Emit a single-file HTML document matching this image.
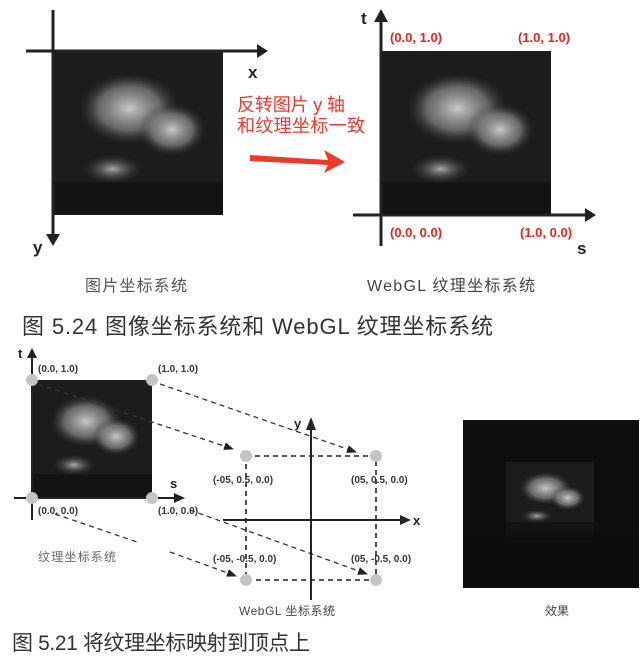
<!DOCTYPE html>
<html><head><meta charset="utf-8"><style>
html,body{margin:0;padding:0;background:#fff;}
svg{display:block;}
text{font-family:"Liberation Sans","Noto Sans CJK SC",sans-serif;}
</style></head><body>
<svg width="640" height="659" viewBox="0 0 640 659" xmlns="http://www.w3.org/2000/svg">
<defs>
<radialGradient id="c1" cx="50%" cy="50%" r="50%"><stop offset="0" stop-color="#c8c8c8"/><stop offset="0.6" stop-color="#888" stop-opacity="0.7"/><stop offset="1" stop-color="#333" stop-opacity="0"/></radialGradient>
<radialGradient id="c2" cx="50%" cy="50%" r="50%"><stop offset="0" stop-color="#aaa"/><stop offset="1" stop-color="#333" stop-opacity="0"/></radialGradient>
<g id="cloud">
<rect x="0" y="0" width="100" height="100" fill="#1c1c1c"/>
<ellipse cx="45" cy="35" rx="30" ry="22" fill="url(#c1)"/>
<ellipse cx="70" cy="48" rx="20" ry="16" fill="url(#c1)"/>
<ellipse cx="35" cy="72" rx="18" ry="9" fill="url(#c2)"/>
<rect x="0" y="80" width="100" height="20" fill="#141414"/>
</g>
<marker id="ahs" markerWidth="10" markerHeight="8" refX="9" refY="4" orient="auto" markerUnits="userSpaceOnUse"><path d="M0,0 L10,4 L0,8 Z" fill="#222"/></marker>
</defs>

<use href="#cloud" transform="translate(53,51) scale(1.7,1.64)"/>
<line x1="26" y1="51" x2="258" y2="51" stroke="#222" stroke-width="3"/>
<path d="M257,44 L268,51 L257,58 Z" fill="#222"/>
<line x1="53" y1="10" x2="53" y2="236" stroke="#222" stroke-width="3"/>
<path d="M46,234 L53,246 L60,234 Z" fill="#222"/>
<text x="248" y="78" font-size="17" font-weight="bold" fill="#222">x</text>
<text x="33" y="253" font-size="17" font-weight="bold" fill="#222">y</text>

<text x="237" y="111" font-size="18" fill="#f0382a" textLength="108" lengthAdjust="spacing">反转图片 y 轴</text>
<text x="237" y="132" font-size="18" fill="#f0382a" textLength="128" lengthAdjust="spacing">和纹理坐标一致</text>
<path d="M250,155 L328,160 L324,150 L345,162 L324,173 L328,165 L250,161 Z" fill="#f0382a"/>

<use href="#cloud" transform="translate(381,51) scale(1.7,1.64)"/>
<line x1="381" y1="18" x2="381" y2="246" stroke="#222" stroke-width="3"/>
<path d="M374,22 L381,9 L388,22 Z" fill="#222"/>
<line x1="353" y1="215" x2="588" y2="215" stroke="#222" stroke-width="3"/>
<path d="M585,208 L596,215 L585,222 Z" fill="#222"/>
<text x="361" y="24" font-size="17" font-weight="bold" fill="#222">t</text>
<text x="577" y="254" font-size="17" font-weight="bold" fill="#222">s</text>
<g font-size="13" font-weight="bold" fill="#e8231c">
<text x="390" y="42">(0.0,   1.0)</text>
<text x="518" y="42">(1.0,   1.0)</text>
<text x="390" y="237">(0.0,   0.0)</text>
<text x="520" y="237">(1.0,   0.0)</text>
</g>
<text x="85" y="291" font-size="16" fill="#555" textLength="102" lengthAdjust="spacing">图片坐标系统</text>
<text x="367" y="291" font-size="16" fill="#444" textLength="168" lengthAdjust="spacing">WebGL 纹理坐标系统</text>
<text x="22" y="334" font-size="22" fill="#333" textLength="471" lengthAdjust="spacing">图 5.24  图像坐标系统和 WebGL 纹理坐标系统</text>

<use href="#cloud" transform="translate(32,380) scale(1.2,1.18)"/>
<line x1="32" y1="356" x2="32" y2="520" stroke="#222" stroke-width="2"/>
<path d="M27,358 L32,348 L37,358 Z" fill="#222"/>
<line x1="14" y1="498" x2="176" y2="498" stroke="#222" stroke-width="2"/>
<path d="M174,493 L185,498 L174,503 Z" fill="#222"/>
<text x="18" y="358" font-size="13" font-weight="bold" fill="#222">t</text>
<text x="170" y="488" font-size="13" font-weight="bold" fill="#222">s</text>
<g fill="#c4c4c4"><circle cx="32" cy="380" r="6"/><circle cx="152" cy="380" r="6"/><circle cx="32" cy="498" r="6"/><circle cx="152" cy="498" r="6"/></g>
<g font-size="10" font-weight="bold" fill="#333">
<text x="38" y="372">(0.0, 1.0)</text>
<text x="158" y="372">(1.0, 1.0)</text>
<text x="38" y="514">(0.0, 0.0)</text>
<text x="158" y="514">(1.0, 0.0)</text>
</g>
<text x="38" y="561" font-size="12" fill="#666" textLength="78" lengthAdjust="spacing">纹理坐标系统</text>

<g stroke="#333" stroke-width="1.3" stroke-dasharray="5,4" fill="none">
<line x1="38" y1="384" x2="233" y2="449" marker-end="url(#ahs)"/>
<line x1="160" y1="384" x2="356" y2="452" marker-end="url(#ahs)"/>
<line x1="55" y1="514" x2="140" y2="543"/>
<line x1="170" y1="552" x2="236" y2="576" marker-end="url(#ahs)"/>
<line x1="190" y1="510" x2="367" y2="574" marker-end="url(#ahs)"/>
</g>

<g stroke="#222" stroke-width="1.6" stroke-dasharray="5,4" fill="none">
<rect x="246" y="456" width="130" height="124"/>
</g>
<line x1="311" y1="426" x2="311" y2="600" stroke="#222" stroke-width="2"/>
<path d="M306,430 L311,417 L316,430 Z" fill="#222"/>
<line x1="223" y1="520" x2="402" y2="520" stroke="#222" stroke-width="2"/>
<path d="M400,515 L411,520 L400,525 Z" fill="#222"/>
<text x="294" y="428" font-size="13" font-weight="bold" fill="#222">y</text>
<text x="413" y="525" font-size="13" font-weight="bold" fill="#222">x</text>
<g fill="#c4c4c4"><circle cx="246" cy="456" r="6"/><circle cx="376" cy="456" r="6"/><circle cx="246" cy="580" r="6"/><circle cx="376" cy="580" r="6"/></g>
<g font-size="10" font-weight="bold" fill="#333">
<text x="213" y="483">(-05, 0.5, 0.0)</text>
<text x="351" y="483">(05, 0.5, 0.0)</text>
<text x="213" y="562">(-05, -0.5, 0.0)</text>
<text x="351" y="562">(05, -0.5, 0.0)</text>
</g>
<text x="239" y="615" font-size="12" fill="#444" textLength="96" lengthAdjust="spacing">WebGL 坐标系统</text>

<rect x="463" y="420" width="176" height="168" fill="#0e0e0e"/>
<use href="#cloud" transform="translate(506,462) scale(0.88,0.75)"/>
<rect x="463" y="530" width="176" height="58" fill="#0e0e0e" opacity="0.6"/>
<text x="545" y="615" font-size="12" fill="#444">效果</text>

<text x="12" y="650" font-size="21" fill="#333" textLength="298" lengthAdjust="spacing">图 5.21  将纹理坐标映射到顶点上</text>
</svg>
</body></html>
